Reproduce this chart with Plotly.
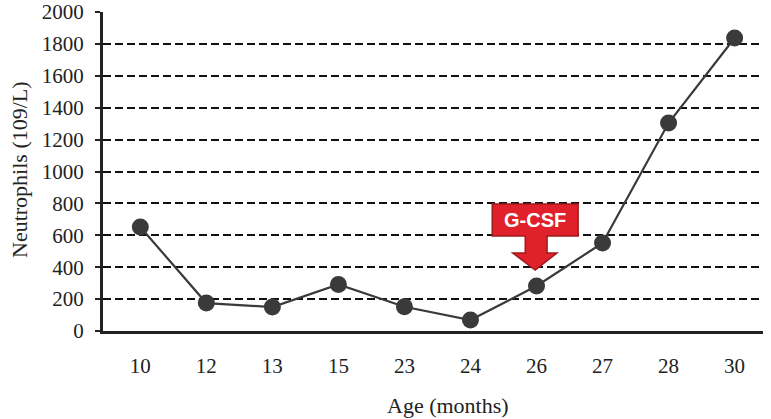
import plotly.graph_objects as go

ages = ["10", "12", "13", "15", "23", "24", "26", "27", "28", "30"]
neutrophils = [652, 175, 150, 292, 152, 69, 282, 552, 1304, 1837]
y_ticks = [0, 200, 400, 600, 800, 1000, 1200, 1400, 1600, 1800, 2000]

SERIF = "Liberation Serif, Times New Roman, serif"
INK = "#3a3a3a"

fig = go.Figure()

fig.add_trace(go.Scatter(
    x=ages, y=neutrophils, mode="lines+markers",
    line=dict(color=INK, width=2.2),
    marker=dict(color=INK, size=17),
    showlegend=False,
    hovertemplate="%{x} months: %{y}<extra></extra>",
))

# G-CSF arrow (data coordinates on the category index axis)
arrow = ("M 5.33 796 L 6.63 796 L 6.63 596 L 6.16 596 L 6.16 489 "
         "L 6.31 489 L 5.98 382 L 5.64 489 L 5.83 489 L 5.83 596 "
         "L 5.33 596 Z")
fig.add_shape(type="path", path=arrow, xref="x", yref="y",
              fillcolor="#e0202a", line=dict(color="#9e1a1e", width=1.5),
              layer="above")
fig.add_annotation(x=5.98, y=698, xref="x", yref="y", text="<b>G-CSF</b>",
                   showarrow=False,
                   font=dict(family="Liberation Sans, Arial, sans-serif",
                             size=20, color="white"))

fig.add_annotation(x=448, y=405, xref="paper", yref="paper",
                   text="Age (months)", showarrow=False,
                   font=dict(family=SERIF, size=22, color="#222"))
fig.add_annotation(x=19, y=170, xref="paper", yref="paper",
                   text="Neutrophils (109/L)", textangle=-90, showarrow=False,
                   font=dict(family=SERIF, size=22, color="#222"))

W, H = 771, 419
L, R, T, B = 103, 8, 12, 88
for a in fig.layout.annotations[1:]:
    a.x = (a.x - L) / (W - L - R)
    a.y = (H - B - a.y) / (H - T - B)
    a.xanchor = "center"
    a.yanchor = "middle"

fig.update_layout(
    width=W, height=H,
    margin=dict(l=L, r=R, t=T, b=B, autoexpand=False),
    paper_bgcolor="white", plot_bgcolor="white",
    font=dict(family=SERIF, size=21, color="#222"),
    xaxis=dict(
        type="category", range=[-0.565, 9.43], automargin=False,
        showgrid=False, zeroline=False,
        showline=True, linecolor="#222", linewidth=3,
        ticks="", ticklabelstandoff=14,
        tickfont=dict(family=SERIF, size=21, color="#222"),
    ),
    yaxis=dict(
        range=[0, 2000], tickvals=y_ticks, automargin=False,
        showgrid=True, gridcolor="#111", gridwidth=2, griddash="8px,4px",
        zeroline=False,
        showline=True, linecolor="#222", linewidth=3,
        ticks="outside", ticklen=5, tickwidth=2, tickcolor="#222",
        ticklabelstandoff=7,
        tickfont=dict(family=SERIF, size=21, color="#222"),
    ),
)

fig.write_html("out.html", config={"displayModeBar": False},
               post_script="document.body.style.margin = '0';")
